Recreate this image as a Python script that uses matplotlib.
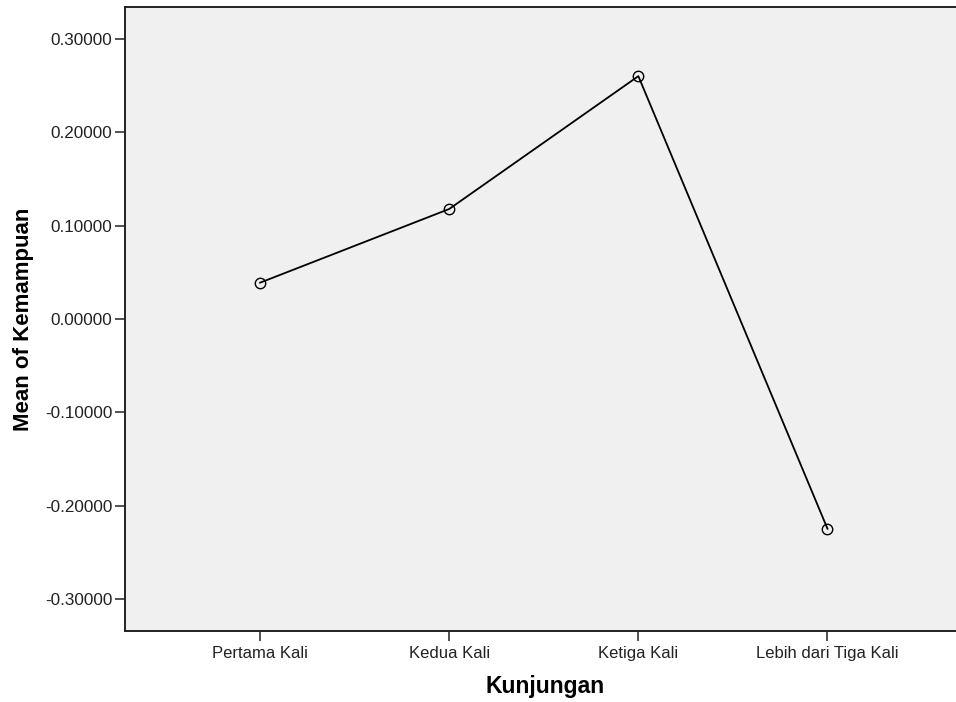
import matplotlib

matplotlib.use("Agg")
import matplotlib.pyplot as plt  # noqa: E402

plt.rcParams["font.family"] = ["Liberation Sans", "DejaVu Sans"]

# Mean of Kemampuan per visit category
CATEGORIES = ["Pertama Kali", "Kedua Kali", "Ketiga Kali", "Lebih dari Tiga Kali"]
MEANS = [0.0389, 0.1178, 0.2600, -0.2245]
Y_TICKS = [0.3, 0.2, 0.1, 0.0, -0.1, -0.2, -0.3]

BG = "#f0f0f0"


def main() -> None:
    fig = plt.figure(figsize=(9.56, 7.02), dpi=100)
    ax = fig.add_axes([0.1308, 0.1011, 0.8692 + 0.01, 0.8889])
    ax.set_facecolor(BG)

    x = list(range(len(CATEGORIES)))
    ax.plot(x, MEANS, color="black", linewidth=1.3, zorder=2)
    ax.plot(x, MEANS, linestyle="none", marker="o", markersize=7.5,
            markerfacecolor="none", markeredgecolor="black",
            markeredgewidth=1.0, zorder=3)

    ax.set_xlim(-0.714, 3.73)
    ax.set_ylim(-0.334, 0.334)
    ax.set_xticks(x)
    ax.set_xticklabels(CATEGORIES, fontsize=12)
    ax.set_yticks(Y_TICKS)
    ax.set_yticklabels([f"{v:.5f}" for v in Y_TICKS], fontsize=12.3)
    ax.tick_params(length=7.5, width=1.2, color="#333333", labelcolor="#222222")
    ax.tick_params(axis="x", pad=3)
    ax.tick_params(axis="y", pad=1.5)

    for side in ("left", "top", "bottom"):
        ax.spines[side].set_linewidth(1.4)
        ax.spines[side].set_color("#222222")
    ax.spines["right"].set_visible(False)

    ax.set_xlabel("Kunjungan", fontsize=16.5, fontweight="bold", labelpad=10)
    ax.set_ylabel("Mean of Kemampuan", fontsize=16, fontweight="bold",
                  labelpad=8)

    fig.savefig("out.png", dpi=100)


if __name__ == "__main__":
    main()
